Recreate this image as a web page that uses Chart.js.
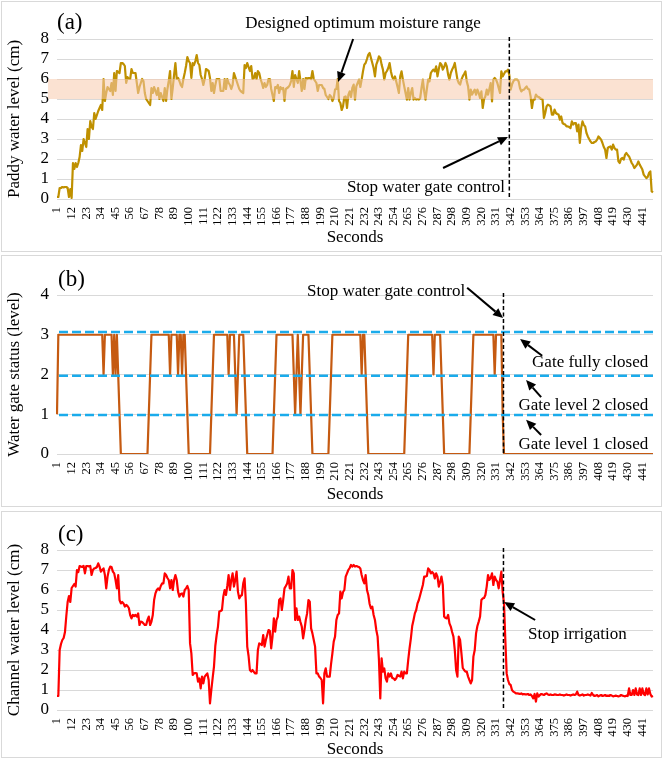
<!DOCTYPE html>

<html>

<head>
    <title>paddy-gate-channel</title>
    <meta charset="utf-8">
    <script src="https://cdn.jsdelivr.net/npm/chart.js"></script>
    <style>
        body { margin: 0; background: #fff; }
        .panel { position: absolute; left: 1px; width: 661px; border: 1px solid #d9d9d9; box-sizing: border-box; }
        canvas { position: absolute; left: 0; }
    </style>
</head>

<body>
    <div class="panel" style="top:1px;height:251px"></div>
    <div class="panel" style="top:255px;height:252px"></div>
    <div class="panel" style="top:511px;height:247px"></div>
    <canvas id="paddychart" width="663" height="251" style="top:0"></canvas>
    <canvas id="gatechart" width="663" height="254" style="top:253px"></canvas>
    <canvas id="channelchart" width="663" height="253" style="top:508px"></canvas>

    <script>
        // seconds 1..449 on the category axis
        const seconds = [];
        for (let s = 1; s <= 449; s++) seconds.push(String(s));

        const shownTicks = ['1', '12', '23', '34', '45', '56', '67', '78', '89', '100', '111', '122', '133', '144',
            '155', '166', '177', '188', '199', '210', '221', '232', '243', '254', '265', '276', '287', '298', '309',
            '320', '331', '342', '353', '364', '375', '386', '397', '408', '419', '430', '441'];

        // (a) paddy water level, cm
        const paddyLevel = [
            0.1, 0.1, 0.55, 0.55, 0.6, 0.58, 0.6, 0.6, 0.55, 0.1,
            0.5, 0.05, 1.8, 1.5, 1.8, 1.6, 1.8, 2.1, 2.7, 2.4,
            3.0, 2.8, 2.6, 3.5, 3.0, 3.9, 3.6, 3.5, 4.3, 4.0,
            4.2, 4.4, 4.55, 4.7, 4.45, 6.0, 4.9, 5.3, 5.6, 5.5,
            5.4, 5.8, 5.2, 6.3, 5.4, 6.4, 6.35, 6.3, 6.8, 6.8,
            6.75, 6.65, 5.8, 6.1, 6.0, 6.0, 6.5, 6.3, 6.3, 6.3,
            5.8, 5.3, 5.6, 5.8, 6.0, 5.9, 5.3, 5.0, 4.9, 4.8,
            4.7, 5.55, 5.3, 5.6, 5.4, 5.2, 5.55, 5.0, 5.3, 5.1,
            4.9, 5.55, 4.9, 5.5, 5.9, 6.4, 5.0, 5.55, 6.2, 6.8,
            6.0, 6.05, 5.9, 5.7, 5.6, 6.0, 6.3, 6.65, 7.1, 6.9,
            6.8, 6.05, 6.8, 6.7, 6.9, 7.2, 6.8, 6.7, 6.2, 6.0,
            5.7, 6.0, 6.5, 6.45, 6.4, 6.05, 5.4, 5.8, 5.3, 5.7,
            6.0, 6.0, 6.0, 5.4, 5.4, 5.4, 6.0, 5.5, 6.0, 5.8,
            5.7, 5.5, 5.7, 6.3, 6.1, 5.9, 5.7, 5.5, 5.4, 5.35,
            5.3, 6.7, 6.55, 6.8, 6.6, 6.4, 6.65, 6.0, 6.05, 6.3,
            6.0, 6.4, 6.3, 6.0, 5.8, 5.55, 5.8, 5.6, 5.7, 6.0,
            6.0, 5.5, 5.2, 4.9, 5.6, 5.55, 5.7, 5.3, 5.6, 5.5,
            5.55, 4.9, 5.5, 5.55, 5.6, 5.7, 5.9, 6.4, 5.6, 6.2,
            6.0, 5.8, 6.4, 5.9, 5.4, 6.0, 5.5, 6.05, 6.0, 6.05,
            6.05, 6.0, 6.4, 6.0, 5.9, 5.8, 5.4, 5.7, 5.7, 5.7,
            5.55, 5.5, 5.2, 5.1, 5.0, 5.2, 5.13, 4.9, 5.05, 5.47,
            5.5, 6.0, 4.9, 4.8, 4.45, 4.63, 5.1, 5.13, 4.55, 5.2,
            5.38, 5.1, 5.55, 5.72, 4.97, 5.63, 5.8, 5.97, 5.6, 5.97,
            6.38, 6.72, 6.8, 7.0, 7.22, 7.3, 7.05, 6.8, 6.55, 6.13,
            6.72, 6.9, 7.13, 7.05, 6.72, 6.47, 5.97, 6.3, 6.4, 6.55,
            6.8, 6.38, 6.1, 5.97, 6.13, 5.88, 5.6, 5.3, 6.13, 6.38,
            5.97, 5.63, 5.3, 4.97, 5.55, 4.97, 5.3, 5.55, 4.97, 5.05,
            4.97, 5.0, 4.97, 5.05, 5.55, 5.97, 5.38, 4.97, 5.5, 5.97,
            5.88, 6.3, 6.4, 6.47, 6.38, 6.63, 6.13, 6.5, 6.8, 6.72,
            6.47, 6.6, 6.8, 6.63, 6.22, 5.97, 6.3, 6.47, 6.6, 6.8,
            6.38, 5.97, 5.8, 5.72, 5.97, 6.13, 6.25, 6.38, 5.88, 5.63,
            4.97, 5.47, 5.22, 5.35, 5.47, 5.22, 5.47, 5.3, 5.05, 5.38,
            4.55, 5.0, 5.13, 5.47, 5.22, 5.5, 5.8, 4.88, 5.97, 6.05,
            5.97, 5.8, 5.55, 5.3, 6.38, 6.13, 6.25, 6.38, 6.38, 6.47,
            6.2, 5.47, 5.72, 5.88, 5.97, 5.97, 5.97, 5.88, 5.55, 5.38,
            5.45, 5.47, 5.55, 5.63, 5.5, 5.47, 5.13, 4.55, 4.97, 4.97,
            5.22, 5.13, 5.1, 5.05, 5.0, 4.97, 4.05, 4.3, 4.63, 4.72,
            4.68, 4.63, 4.22, 4.22, 4.47, 4.3, 4.25, 4.22, 3.97, 4.13,
            3.8, 3.75, 3.72, 3.63, 3.63, 3.6, 3.55, 3.88, 3.72, 3.8,
            3.8, 3.38, 3.72, 2.8, 3.55, 3.88, 3.7, 3.63, 3.3, 3.13,
            3.0, 2.88, 2.8, 2.8, 2.85, 2.88, 2.97, 3.13, 3.05, 2.97,
            2.8, 2.6, 2.47, 2.05, 2.55, 2.6, 2.63, 2.47, 2.72, 2.55,
            2.47, 2.47, 1.88, 1.8, 2.0, 2.05, 1.97, 2.22, 2.3, 2.2,
            2.13, 1.97, 1.8, 1.7, 1.55, 1.63, 1.72, 1.88, 1.72, 1.6,
            1.47, 1.22, 1.13, 1.05, 1.1, 1.3, 1.38, 0.38, 0.33
        ];

        // (b) water gate status, level
        const gateStatus = [
            1, 3, 3, 3, 3, 3, 3, 3, 3, 3,
            3, 3, 3, 3, 3, 3, 3, 3, 3, 3,
            3, 3, 3, 3, 3, 3, 3, 3, 3, 3,
            3, 3, 3, 3, 3, 2, 3, 3, 3, 3,
            3, 3, 2, 3, 2, 3, 2, 1, 0, 0,
            0, 0, 0, 0, 0, 0, 0, 0, 0, 0,
            0, 0, 0, 0, 0, 0, 0, 0, 0, 1,
            2, 3, 3, 3, 3, 3, 3, 3, 3, 3,
            3, 3, 3, 3, 3, 2, 3, 3, 3, 3,
            3, 2, 3, 3, 2, 3, 3, 2, 1, 0,
            0, 0, 0, 0, 0, 0, 0, 0, 0, 0,
            0, 0, 0, 0, 0, 0, 1, 2, 3, 3,
            3, 3, 3, 3, 3, 3, 3, 3, 3, 2,
            3, 3, 3, 3, 2, 1, 2, 3, 3, 3,
            3, 2, 1, 0, 0, 0, 0, 0, 0, 0,
            0, 0, 0, 0, 0, 0, 0, 0, 0, 0,
            0, 0, 0, 1, 2, 3, 3, 3, 3, 3,
            3, 3, 3, 3, 3, 3, 3, 3, 2, 1,
            2, 3, 2, 1, 2, 3, 3, 3, 3, 3,
            2, 1, 0, 0, 0, 0, 0, 0, 0, 0,
            0, 0, 0, 0, 0, 1, 2, 3, 3, 3,
            3, 3, 3, 3, 3, 3, 3, 3, 3, 3,
            3, 3, 3, 3, 3, 3, 3, 3, 3, 2,
            3, 3, 2, 1, 0, 0, 0, 0, 0, 0,
            0, 0, 0, 0, 0, 0, 0, 0, 0, 0,
            0, 0, 0, 0, 0, 0, 0, 0, 0, 0,
            0, 0, 1, 2, 3, 3, 3, 3, 3, 3,
            3, 3, 3, 3, 3, 3, 3, 3, 3, 3,
            3, 3, 3, 2, 3, 3, 3, 3, 3, 2,
            1, 0, 0, 0, 0, 0, 0, 0, 0, 0,
            0, 0, 0, 0, 0, 0, 0, 0, 0, 0,
            0, 1, 2, 3, 3, 3, 3, 3, 3, 3,
            3, 3, 3, 3, 3, 3, 3, 3, 3, 2,
            3, 3, 3, 3, 3, 1, 0, 0, 0, 0,
            0, 0, 0, 0, 0, 0, 0, 0, 0, 0,
            0, 0, 0, 0, 0, 0, 0, 0, 0, 0,
            0, 0, 0, 0, 0, 0, 0, 0, 0, 0,
            0, 0, 0, 0, 0, 0, 0, 0, 0, 0,
            0, 0, 0, 0, 0, 0, 0, 0, 0, 0,
            0, 0, 0, 0, 0, 0, 0, 0, 0, 0,
            0, 0, 0, 0, 0, 0, 0, 0, 0, 0,
            0, 0, 0, 0, 0, 0, 0, 0, 0, 0,
            0, 0, 0, 0, 0, 0, 0, 0, 0, 0,
            0, 0, 0, 0, 0, 0, 0, 0, 0, 0,
            0, 0, 0, 0, 0, 0, 0, 0, 0
        ];

        // (c) channel water level, cm
        const channelLevel = [
            0.7, 0.7, 3.0, 3.3, 3.5, 3.6, 3.9, 4.7, 5.4, 5.7,
            5.4, 6.1, 6.2, 6.3, 6.17, 7.0, 6.9, 7.2, 7.17, 7.15,
            7.2, 6.83, 7.2, 7.2, 7.18, 7.2, 6.75, 7.0, 7.08, 7.1,
            7.15, 7.33, 7.17, 6.92, 7.0, 7.08, 6.75, 6.08, 6.67, 7.0,
            7.17, 7.15, 6.92, 6.83, 6.5, 6.08, 6.75, 5.5, 5.33, 5.4,
            5.33, 5.17, 5.25, 5.2, 5.1, 4.75, 4.58, 4.75, 4.7, 4.75,
            4.67, 4.83, 4.25, 4.42, 4.4, 4.33, 4.25, 4.25, 4.5, 4.67,
            4.25, 4.42, 4.75, 5.5, 5.83, 6.0, 6.08, 6.0, 6.2, 6.33,
            6.33, 6.83, 6.75, 6.6, 6.5, 6.08, 6.5, 6.0, 6.5, 6.75,
            6.5, 5.92, 5.67, 5.8, 5.83, 5.67, 6.0, 6.08, 6.2, 6.0,
            3.33, 2.83, 1.75, 1.83, 1.85, 1.83, 1.42, 1.58, 1.08, 1.67,
            1.33, 1.67, 1.75, 1.83, 1.5, 0.33, 1.0, 1.6, 2.17, 3.2,
            3.75, 4.17, 4.92, 4.95, 5.0, 5.67, 6.0, 5.75, 6.2, 6.75,
            6.0, 6.5, 6.83, 6.17, 6.5, 6.92, 5.92, 5.58, 5.7, 5.75,
            6.33, 6.58, 5.33, 3.17, 2.7, 2.0, 1.92, 2.0, 1.9, 1.83,
            1.83, 3.0, 3.33, 3.3, 3.25, 3.75, 3.17, 3.5, 3.75, 4.0,
            3.95, 3.08, 3.67, 4.58, 3.92, 4.5, 4.67, 5.5, 5.58, 5.0,
            5.5, 6.08, 6.2, 6.33, 6.67, 6.08, 6.08, 7.0, 6.83, 4.5,
            5.08, 4.5, 4.67, 4.4, 4.17, 3.58, 4.0, 4.5, 4.83, 5.5,
            5.42, 4.08, 3.83, 3.5, 3.17, 1.83, 1.83, 1.67, 1.6, 1.5,
            0.33, 1.83, 2.08, 1.67, 1.67, 1.67, 2.3, 2.83, 3.42, 3.67,
            4.5, 4.75, 4.83, 5.92, 5.58, 5.9, 6.0, 6.67, 6.83, 7.0,
            7.1, 7.25, 7.17, 7.25, 7.17, 7.2, 7.17, 7.15, 7.08, 6.75,
            6.5, 6.33, 6.75, 6.0, 5.75, 5.3, 5.08, 5.17, 4.75, 4.5,
            4.0, 3.67, 2.5, 0.58, 2.58, 1.92, 2.08, 1.6, 1.42, 1.83,
            1.67, 1.83, 1.6, 1.58, 1.5, 1.58, 1.75, 1.7, 1.67, 1.92,
            1.58, 1.92, 1.83, 1.83, 2.5, 3.08, 3.58, 4.2, 4.5, 4.83,
            5.0, 5.33, 5.5, 5.75, 6.0, 6.25, 6.67, 6.67, 6.7, 7.08,
            7.0, 6.83, 6.9, 6.83, 6.58, 6.83, 6.67, 6.17, 6.4, 6.67,
            6.25, 4.67, 4.6, 4.58, 4.75, 4.33, 4.17, 3.9, 3.67, 3.0,
            2.0, 1.67, 3.67, 3.5, 2.83, 2.1, 2.0, 1.92, 1.92, 1.67,
            1.5, 1.33, 1.5, 2.67, 3.0, 3.83, 4.2, 4.42, 4.67, 5.5,
            5.58, 5.6, 5.75, 6.17, 6.75, 6.5, 6.6, 6.83, 6.25, 6.67,
            6.5, 6.42, 6.08, 6.5, 6.92, 5.9, 5.33, 3.5, 1.83, 1.5,
            1.3, 1.25, 1.0, 0.92, 0.88, 0.83, 0.83, 0.82, 0.8, 0.83,
            0.78, 0.8, 0.78, 0.78, 0.8, 0.75, 0.78, 0.7, 0.58, 0.8,
            0.42, 0.83, 0.67, 0.75, 0.8, 0.78, 0.75, 0.8, 0.83, 0.78,
            0.75, 0.78, 0.75, 0.75, 0.78, 0.77, 0.75, 0.75, 0.78, 0.75,
            0.75, 0.72, 0.75, 0.78, 0.75, 0.75, 0.72, 0.75, 0.78, 0.75,
            0.78, 0.92, 0.75, 0.72, 0.75, 0.78, 0.72, 0.75, 0.75, 0.78,
            0.75, 0.72, 0.85, 0.75, 0.7, 0.72, 0.75, 0.68, 0.72, 0.75,
            0.7, 0.72, 0.75, 0.7, 0.72, 0.7, 0.75, 0.72, 0.68, 0.7,
            0.72, 0.7, 0.68, 0.7, 0.75, 0.72, 0.7, 0.68, 0.72, 0.7,
            1.08, 0.75, 0.75, 1.0, 0.75, 1.08, 0.78, 0.75, 1.08, 0.75,
            1.08, 0.8, 0.75, 1.08, 0.78, 1.08, 0.8, 0.67, 0.7
        ];

        const optimumRange = [5, 6];
        const gateLevels = [3.07, 1.97, 0.98];

        const serif = "'Liberation Serif', 'Times New Roman', serif";

        function drawArrow(ctx, x1, y1, x2, y2) {
            const a = Math.atan2(y2 - y1, x2 - x1);
            const hl = 10, hw = 4.5;
            const bx = x2 - hl * Math.cos(a), by = y2 - hl * Math.sin(a);
            ctx.beginPath();
            ctx.moveTo(x1, y1);
            ctx.lineTo(bx, by);
            ctx.stroke();
            ctx.beginPath();
            ctx.moveTo(x2, y2);
            ctx.lineTo(bx + hw * Math.sin(a), by - hw * Math.cos(a));
            ctx.lineTo(bx - hw * Math.sin(a), by + hw * Math.cos(a));
            ctx.closePath();
            ctx.fill();
        }

        // band, reference lines, stop marker, arrows and labels; all placed through the scales
        function overlay(opts) {
            return {
                id: 'overlay',
                afterDatasetsDraw(chart) {
                    const { ctx, chartArea, scales: { x, y } } = chart;
                    ctx.save();
                    if (opts.band) {
                        const top = y.getPixelForValue(opts.band[1]);
                        const bot = y.getPixelForValue(opts.band[0]);
                        ctx.fillStyle = 'rgba(248, 203, 173, 0.55)';
                        ctx.fillRect(chartArea.left - 9, top, chartArea.right - chartArea.left + 9, bot - top);
                    }
                    if (opts.hlines) {
                        ctx.strokeStyle = '#1AABEB';
                        ctx.lineWidth = 2.5;
                        ctx.setLineDash([9, 4]);
                        opts.hlines.forEach(v => {
                            const py = y.getPixelForValue(v);
                            ctx.beginPath();
                            ctx.moveTo(chartArea.left + 2, py);
                            ctx.lineTo(chartArea.right, py);
                            ctx.stroke();
                        });
                    }
                    const vx = x.getPixelForValue(opts.stopAt);
                    ctx.strokeStyle = '#000';
                    ctx.lineWidth = 1.5;
                    ctx.setLineDash([4, 2.5]);
                    ctx.beginPath();
                    ctx.moveTo(vx, chartArea.top - 2);
                    ctx.lineTo(vx, chartArea.bottom);
                    ctx.stroke();
                    ctx.setLineDash([]);
                    ctx.lineWidth = 2;
                    ctx.fillStyle = '#000';
                    opts.arrows.forEach(a => {
                        drawArrow(ctx, x.getPixelForValue(a[0]), y.getPixelForValue(a[1]),
                            x.getPixelForValue(a[2]), y.getPixelForValue(a[3]));
                    });
                    ctx.textBaseline = 'middle';
                    opts.texts.forEach(t => {
                        ctx.font = (t.size || 17) + 'px ' + serif;
                        ctx.textAlign = t.align;
                        ctx.fillText(t.text, x.getPixelForValue(t.x), y.getPixelForValue(t.y));
                    });
                    ctx.restore();
                }
            };
        }

        function makeChart(id, values, color, yMax, yTitle, pad, xHeight, extra) {
            return new Chart(document.getElementById(id), {
                type: 'line',
                data: {
                    labels: seconds,
                    datasets: [{
                        data: values,
                        borderColor: color,
                        borderWidth: 2.2,
                        pointRadius: 0,
                        fill: false,
                        tension: 0,
                        borderJoinStyle: 'round'
                    }]
                },
                options: {
                    responsive: false,
                    animation: false,
                    layout: { padding: pad },
                    plugins: { legend: { display: false }, tooltip: { enabled: false } },
                    scales: {
                        x: {
                            grid: { display: false, drawTicks: false },
                            border: { display: false },
                            ticks: {
                                autoSkip: false,
                                minRotation: 90,
                                maxRotation: 90,
                                padding: 8,
                                color: '#000',
                                font: { family: serif, size: 12.5 },
                                callback: (value, index) => shownTicks.includes(seconds[index]) ? seconds[index] : ''
                            },
                            title: {
                                display: true,
                                text: 'Seconds',
                                color: '#000',
                                font: { family: serif, size: 17 },
                                padding: { top: 0, bottom: 1 }
                            },
                            afterFit: s => {
                                s.height = xHeight;
                                s.paddingLeft = 0;
                                s.paddingRight = 0;
                            }
                        },
                        y: {
                            min: 0,
                            max: yMax,
                            grid: { color: '#d9d9d9', drawTicks: false },
                            border: { display: false },
                            ticks: { stepSize: 1, autoSkip: false, padding: 8, color: '#000', font: { family: serif, size: 17 } },
                            title: {
                                display: true,
                                text: yTitle,
                                color: '#000',
                                font: { family: serif, size: 17 }
                            },
                            afterFit: s => { s.width = 57; }
                        }
                    }
                },
                plugins: [overlay(extra)]
            });
        }

        makeChart('paddychart', paddyLevel, '#BF9000', 8, 'Paddy water level (cm)',
            { left: 0, right: 10, top: 39, bottom: 2 }, 50, {
                band: optimumRange,
                stopAt: 340,
                arrows: [[222.6, 8.0, 211.3, 5.85], [290.2, 1.55, 339, 3.1]],
                texts: [
                    { text: '(a)', x: 0, y: 8.8, align: 'left', size: 23 },
                    { text: 'Designed optimum moisture range', x: 230, y: 8.75, align: 'center' },
                    { text: 'Stop water gate control', x: 336.8, y: 0.55, align: 'right' }
                ]
            });

        makeChart('gatechart', gateStatus, '#C55A11', 4, 'Water gate status (level)',
            { left: 0, right: 10, top: 42, bottom: 1 }, 52, {
                hlines: gateLevels,
                stopAt: 335.6,
                arrows: [[308.3, 4.18, 335.3, 3.42], [364.7, 2.47, 348.1, 2.89],
                    [363.9, 1.43, 352.6, 1.86], [363.9, 0.48, 352.6, 0.86]],
                texts: [
                    { text: '(b)', x: 0.75, y: 4.38, align: 'left', size: 23 },
                    { text: 'Stop water gate control', x: 306.8, y: 4.08, align: 'right' },
                    { text: 'Gate fully closed', x: 444.4, y: 2.29, align: 'right' },
                    { text: 'Gate level 2 closed', x: 444.4, y: 1.21, align: 'right' },
                    { text: 'Gate level 1 closed', x: 444.4, y: 0.23, align: 'right' }
                ]
            });

        makeChart('channelchart', channelLevel, '#FF0000', 8, 'Channel water level (cm)',
            { left: 0, right: 10, top: 42, bottom: 0 }, 51, {
                stopAt: 335.6,
                arrows: [[359.4, 4.5, 336.1, 5.4]],
                texts: [
                    { text: '(c)', x: 0.75, y: 8.75, align: 'left', size: 23 },
                    { text: 'Stop irrigation', x: 354.1, y: 3.75, align: 'left' }
                ]
            });
    </script>
</body>

</html>
